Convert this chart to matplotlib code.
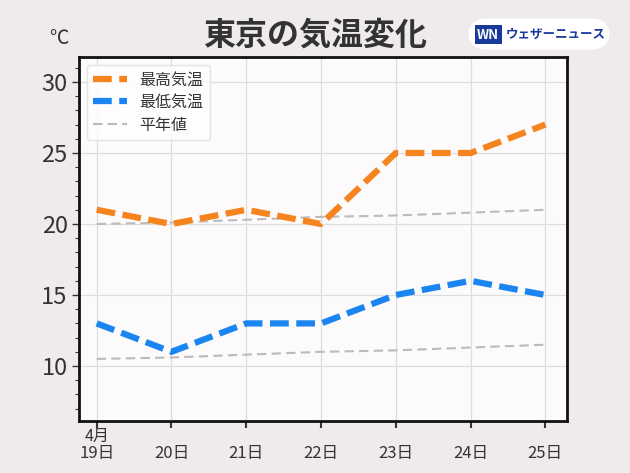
import matplotlib
matplotlib.use("Agg")
import matplotlib.pyplot as plt
from matplotlib.patches import FancyBboxPatch
from matplotlib.ticker import MultipleLocator

plt.rcParams['font.family'] = ['Noto Sans CJK JP', 'DejaVu Sans']

days = ["19日", "20日", "21日", "22日", "23日", "24日", "25日"]
month_label = "4月"
high = [21, 20, 21, 20, 25, 25, 27]
low = [13, 11, 13, 13, 15, 16, 15]
normal_high = [20.0, 20.1, 20.3, 20.5, 20.6, 20.8, 21.0]
normal_low = [10.5, 10.6, 10.8, 11.0, 11.1, 11.3, 11.5]

bg = "#EEEBEA"
fig = plt.figure(figsize=(6.3, 4.73), dpi=100, facecolor=bg)
ax = fig.add_axes([0.125, 0.110, 0.775, 0.7695], facecolor="#FCFAFB")

x = list(range(len(days)))
ax.plot(x, high, color="#F5841F", lw=4.5, dashes=(3, 1.2), label="最高気温", zorder=3)
ax.plot(x, low, color="#1A85F0", lw=4.5, dashes=(3, 1.2), label="最低気温", zorder=3)
ax.plot(x, normal_high, color="#BBBBBB", lw=1.5, dashes=(4.5, 2.5), label="平年値", zorder=2)
ax.plot(x, normal_low, color="#BBBBBB", lw=1.5, dashes=(4.5, 2.5), zorder=2)

ax.set_xlim(-0.24, 6.29)
ax.set_ylim(6.13, 31.76)
ax.set_xticks(x)
ax.set_xticklabels(days, fontsize=12, color="#333333")
ax.set_yticks([10, 15, 20, 25, 30])
ax.yaxis.set_minor_locator(MultipleLocator(1))
ax.tick_params(axis='y', labelsize=17, colors="#333333", length=5, width=1, pad=3)
ax.tick_params(axis='y', which='minor', length=3, width=0.8, color="#333333")
ax.tick_params(axis='x', length=5, width=1.5, colors="#333333", pad=12)
ax.grid(True, which='major', color="#DDDDDD", lw=0.9)
ax.set_axisbelow(True)
for s in ax.spines.values():
    s.set_linewidth(2)
    s.set_color("#111111")

# month label above first day label
ax.annotate(month_label, xy=(x[0], 0), xycoords=("data", "axes fraction"),
            xytext=(0, -15), textcoords="offset pixels", ha="center", va="center",
            fontsize=11.5, color="#333333", annotation_clip=False)

leg = ax.legend(loc="upper left", fontsize=11.5, frameon=True, handlelength=2.1,
                borderaxespad=0.5, labelspacing=0.35, fancybox=True, handletextpad=0.8)
leg.get_frame().set_facecolor("white")
leg.get_frame().set_edgecolor("#DDDDDD")
for t in leg.get_texts():
    t.set_color("#333333")

fig.text(0.5, 0.925, "東京の気温変化", ha="center", va="center", fontsize=23,
         fontweight="bold", color="#333333")
fig.text(0.094, 0.918, "℃", ha="center", va="center", fontsize=14, color="#333333")

# logo
box = FancyBboxPatch((0.743, 0.895), 0.225, 0.066, boxstyle="round,pad=0,rounding_size=0.03",
                     transform=fig.transFigure, facecolor="white", edgecolor="none",
                     mutation_aspect=630/473)
fig.patches.append(box)
fig.text(0.775, 0.927, "WN", ha="center", va="center", fontsize=9.5, fontweight="bold",
         color="white", style="italic",
         bbox=dict(boxstyle="square,pad=0.2", facecolor="#1A3A9A", edgecolor="none"))
fig.text(0.802, 0.927, "ウェザーニュース", ha="left", va="center", fontsize=9,
         color="#1A3A9A", fontweight="bold")

fig.savefig("out.png", dpi=100, facecolor=bg)
